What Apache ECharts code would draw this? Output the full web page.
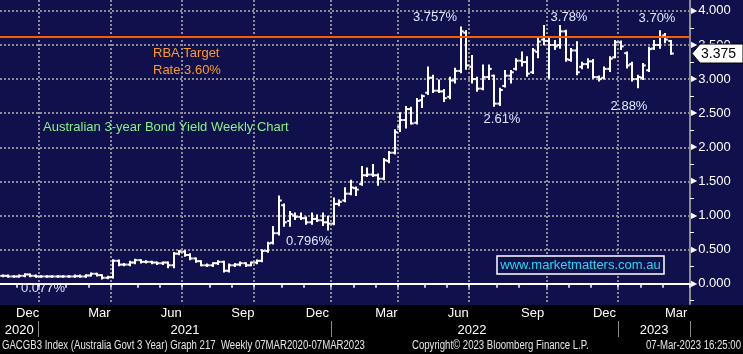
<!DOCTYPE html>
<html>
<head>
<meta charset="utf-8">
<script src="https://cdn.jsdelivr.net/npm/echarts@6/dist/echarts.min.js"></script>
<style>
html, body { margin: 0; padding: 0; background: #000; }
#chart { width: 743px; height: 354px; }
</style>
</head>
<body>
<div id="chart"></div>
<script>
// weekly bars (Friday dates), first slot shown is the week ending 13 Nov 2020
var firstWeek = Date.UTC(2020, 10, 13);
var weekCount = 125;

var open = [
    .115, .115, .106, .106, .115, .135, .115, .106, .106, .106,
    .106, .106, .106, .106, .11, .106, .12, .145, .125, .087,
    .095, .335, .28, .28, .31, .345, .32, .32, .31, .30,
    .31, .27, .44, .47, .42, .37, .33, .27, .27, .30,
    .32, .19, .27, .28, .30, .27, .31, .335, .48, .60,
    .74, 1.15, .92, 1.0, .98, .96, .90, .95, .93, .90,
    .88, 1.17, 1.22, 1.32, 1.40, 1.46, 1.59, 1.60, 1.59, 1.54,
    1.80, 1.92, 2.30, 2.40, 2.56, 2.36, 2.69, 2.80, 3.02, 2.83,
    2.82, 2.74, 2.98, 3.12, 3.68, 3.18, 3.0, 2.86, 3.03, 3.05,
    2.64, 2.90, 3.05, 3.15, 3.27, 3.25, 3.10, 3.40, 3.58, 3.56,
    3.50, 3.50, 3.70, 3.28, 3.42, 3.18, 3.22, 3.26, 3.03, 3.02,
    3.15, 3.32, 3.54, 3.38, 3.22, 3.0, 3.02, 3.13, 3.45, 3.50,
    3.64, 3.56
];
var high = [
    .12, .12, .11, .12, .14, .135, .12, .11, .11, .11,
    .11, .11, .11, .12, .12, .125, .15, .145, .125, .10,
    .345, .34, .29, .32, .35, .345, .33, .32, .31, .31,
    .31, .45, .48, .48, .43, .37, .33, .28, .30, .33,
    .32, .28, .29, .31, .30, .31, .34, .49, .60, .83,
    1.28, 1.16, 1.05, 1.03, 1.03, .97, 1.03, 1.0, 1.03, .98,
    1.25, 1.22, 1.40, 1.51, 1.41, 1.71, 1.69, 1.74, 1.60, 1.83,
    1.93, 2.25, 2.50, 2.59, 2.58, 2.71, 2.76, 3.17, 3.05, 2.98,
    2.84, 3.02, 3.15, 3.757, 3.70, 3.34, 3.02, 3.20, 3.20, 3.05,
    2.86, 3.12, 3.12, 3.29, 3.39, 3.32, 3.44, 3.59, 3.78, 3.59,
    3.56, 3.78, 3.71, 3.44, 3.54, 3.24, 3.29, 3.28, 3.04, 3.17,
    3.32, 3.56, 3.55, 3.39, 3.24, 3.05, 3.22, 3.46, 3.56, 3.70,
    3.66, 3.56
];
var low = [
    .11, .10, .10, .10, .11, .11, .10, .10, .10, .10,
    .10, .10, .10, .10, .10, .10, .12, .12, .077, .08,
    .09, .27, .27, .27, .30, .31, .31, .30, .29, .29,
    .24, .24, .43, .41, .36, .32, .27, .26, .26, .29,
    .18, .18, .26, .27, .26, .27, .30, .33, .47, .59,
    .72, .85, .85, .95, .95, .88, .88, .92, .86, .796,
    .87, 1.15, 1.21, 1.31, 1.30, 1.45, 1.58, 1.58, 1.45, 1.53,
    1.78, 1.91, 2.24, 2.29, 2.35, 2.35, 2.59, 2.78, 2.81, 2.81,
    2.68, 2.72, 2.95, 3.10, 3.15, 2.95, 2.83, 2.85, 3.0, 2.61,
    2.62, 2.89, 2.95, 3.14, 3.20, 3.05, 3.09, 3.32, 3.51, 3.02,
    3.44, 3.46, 3.27, 3.27, 3.07, 3.16, 3.17, 3.02, 2.98, 3.01,
    3.12, 3.32, 3.44, 3.17, 2.98, 2.88, 3.0, 3.12, 3.44, 3.46,
    3.54, 3.37
];
var close = [
    .115, .106, .106, .115, .135, .115, .106, .106, .106, .106,
    .106, .106, .106, .11, .106, .12, .145, .125, .087, .095,
    .335, .28, .28, .31, .345, .32, .32, .31, .30, .31,
    .27, .44, .47, .42, .37, .33, .27, .27, .30, .32,
    .19, .27, .28, .30, .27, .31, .335, .48, .59, .74,
    1.22, .90, 1.02, .98, .96, .90, .95, .93, .90, .88,
    1.17, 1.20, 1.32, 1.41, 1.38, 1.59, 1.60, 1.59, 1.54, 1.81,
    1.92, 2.22, 2.40, 2.56, 2.35, 2.68, 2.75, 3.02, 2.83, 2.82,
    2.72, 2.98, 3.12, 3.70, 3.20, 3.0, 2.86, 3.03, 3.15, 2.64,
    2.84, 3.05, 3.10, 3.27, 3.25, 3.08, 3.42, 3.55, 3.56, 3.50,
    3.48, 3.70, 3.29, 3.42, 3.10, 3.22, 3.26, 3.03, 3.00, 3.15,
    3.30, 3.54, 3.48, 3.20, 3.0, 3.03, 3.20, 3.44, 3.50, 3.62,
    3.58, 3.375
];
var rbaTarget = 3.62;
var monthNames = ['Jan', 'Feb', 'Mar', 'Apr', 'May', 'Jun', 'Jul', 'Aug', 'Sep', 'Oct', 'Nov', 'Dec'];

var navy = '#10104c';
var gridLine = { color: '#8c8c96', width: 2, type: [2, 2] };
var font = 'Liberation Sans, Arial, sans-serif';

var weeks = [];
var categories = [];
for (var i = 0; i < weekCount; i++) {
    var d = new Date(firstWeek + i * 7 * 86400000);
    weeks.push(d);
    categories.push(d.toISOString().slice(0, 10));
}

function isMonthStart(i) { return weeks[i].getUTCDate() <= 7; }
function isQuarterStart(i) { return isMonthStart(i) && weeks[i].getUTCMonth() % 3 === 0; }

// month labels sit in the middle of Dec / Mar / Jun / Sep
var monthLabel = {};
var groups = {};
weeks.forEach(function (d, i) {
    var m = d.getUTCMonth();
    if (m % 3 !== 2) return;
    var key = d.getUTCFullYear() + '-' + m;
    (groups[key] = groups[key] || []).push(i);
});
Object.keys(groups).forEach(function (k) {
    var idx = groups[k];
    var at = idx[Math.floor(idx.length / 2)];
    monthLabel[at] = { text: monthNames[weeks[at].getUTCMonth()], even: idx.length % 2 === 0 };
});

// year labels in the middle of each year span
var yearStarts = [];
weeks.forEach(function (d, i) { if (d.getUTCMonth() === 0 && isMonthStart(i)) yearStarts.push(i); });
var bounds = [0].concat(yearStarts).concat([weekCount]);
var yearLabel = {};
for (var b = 0; b < bounds.length - 1; b++) {
    var at = Math.floor((bounds[b] + bounds[b + 1]) / 2 - 0.5);
    yearLabel[at] = String(weeks[bounds[b]].getUTCFullYear());
}

var ohlc = close.map(function (c, i) { return [i, open[i], high[i], low[i], c]; });

function renderBar(params, api) {
    var i = api.value(0);
    var pO = api.coord([i, api.value(1)]);
    var pH = api.coord([i, api.value(2)]);
    var pL = api.coord([i, api.value(3)]);
    var pC = api.coord([i, api.value(4)]);
    var half = api.size([1, 0])[0] * 0.5;
    var x = Math.round(pO[0]);
    var st = { stroke: '#ffffff', lineWidth: 2 };
    return {
        type: 'group',
        children: [
            { type: 'line', shape: { x1: x, y1: pH[1] - 1, x2: x, y2: pL[1] + 1 }, style: st },
            { type: 'line', shape: { x1: x - half, y1: pO[1], x2: x, y2: pO[1] }, style: st },
            { type: 'line', shape: { x1: x, y1: pC[1], x2: x + half, y2: pC[1] }, style: st }
        ]
    };
}

var chart = echarts.init(document.getElementById('chart'));
chart.setOption({
    backgroundColor: navy,
    animation: false,
    grid: { left: 0, right: 53, top: -1, bottom: 50, show: true, backgroundColor: navy, borderWidth: 0 },
    xAxis: [{
        type: 'category',
        data: categories,
        boundaryGap: true,
        axisLine: { show: true, lineStyle: { color: '#ffffff', width: 2 } },
        axisTick: { show: true, interval: function (i) { return isMonthStart(i); }, length: 4, lineStyle: { color: '#ffffff', width: 1.5 } },
        axisLabel: {
            interval: function (i) { return !!monthLabel[i]; },
            formatter: function (v, i) {
                var l = monthLabel[i];
                return l ? (l.even ? '{e|' + l.text + '}' : '{o|' + l.text + '}') : '';
            },
            margin: 3,
            rich: {
                e: { color: '#ffffff', fontSize: 13, fontFamily: font, padding: [0, 5.5, 0, 0] },
                o: { color: '#ffffff', fontSize: 13, fontFamily: font }
            }
        },
        splitLine: { show: true, interval: function (i) { return isQuarterStart(i); }, lineStyle: gridLine }
    }, {
        type: 'category',
        data: categories,
        boundaryGap: true,
        position: 'bottom',
        offset: 17,
        axisLine: { show: false },
        axisTick: { show: true, interval: function (i) { return yearStarts.indexOf(i) >= 0; }, length: 16, lineStyle: { color: '#8a8a8a', width: 1 } },
        axisLabel: {
            interval: function (i) { return !!yearLabel[i]; },
            formatter: function (v, i) { return yearLabel[i] || ''; },
            color: '#ffffff', fontSize: 13, fontFamily: font, margin: 3
        },
        splitLine: { show: false }
    }],
    yAxis: {
        type: 'value',
        position: 'right',
        min: -0.298,
        max: 4.16,
        splitNumber: 9,
        axisLine: { show: true, lineStyle: gridLine },
        axisTick: { show: false },
        minorTick: { show: true, splitNumber: 2, length: 4, lineStyle: { color: '#ffffff', width: 1 } },
        axisLabel: {
            showMinLabel: false,
            showMaxLabel: false,
            margin: 1,
            formatter: function (v) { return '{t|\u25B6}{v|' + v.toFixed(3) + '}'; },
            rich: {
                t: { color: '#ffffff', fontSize: 8, fontFamily: 'DejaVu Sans', padding: [0, 1, 0, 0] },
                v: { color: '#ffffff', fontSize: 13, fontFamily: font }
            }
        },
        splitLine: { show: true, showMinLine: false, showMaxLine: false, lineStyle: gridLine }
    },
    series: [{
        type: 'custom',
        renderItem: renderBar,
        encode: { x: 0, y: [1, 2, 3, 4] },
        data: ohlc,
        markLine: {
            silent: true,
            symbol: 'none',
            label: { show: false },
            lineStyle: { color: '#ff5a00', width: 2, type: 'solid' },
            data: [{ yAxis: rbaTarget }]
        }
    }]
});

function txt(text, x, y, color, align, size, sx) {
    return {
        type: 'text', z: 100, x: x, y: y, scaleX: sx || 1,
        style: {
            text: text, fill: color, fontSize: size || 13, fontFamily: font,
            align: align || 'left', textAlign: align || 'left',
            verticalAlign: 'middle', textVerticalAlign: 'middle'
        }
    };
}

var lastY = chart.convertToPixel({ yAxisIndex: 0 }, close[close.length - 1]);
var note = '#dfe7ff';
chart.setOption({
    graphic: [
        { type: 'rect', z: -1, shape: { x: 0, y: 305, width: 743, height: 49 }, style: { fill: '#000000' } },
        txt('RBA Target', 153, 53, '#ff9a22'),
        txt('Rate 3.60%', 153, 70, '#ff9a22'),
        txt('Australian 3-year Bond Yield Weekly Chart', 43, 127, '#86f286'),
        txt('3.757%', 435, 17, note, 'center'),
        txt('3.78%', 569, 17, note, 'center'),
        txt('3.70%', 657, 18, note, 'center'),
        txt('2.61%', 502, 119, note, 'center'),
        txt('2.88%', 629, 106, note, 'center'),
        txt('0.796%', 308, 241, note, 'center'),
        txt('0.077%', 43, 288, note, 'center'),
        { type: 'rect', z: 99, shape: { x: 497, y: 256, width: 167, height: 18 }, style: { fill: navy, stroke: '#ffffff', lineWidth: 1.5 } },
        txt('www.marketmatters.com.au', 580.5, 265.5, '#2ad8f0', 'center'),
        {
            type: 'polygon', z: 100,
            shape: { points: [[692, lastY], [700, lastY - 9.5], [743, lastY - 9.5], [743, lastY + 9.5], [700, lastY + 9.5]] },
            style: { fill: '#ffffff', stroke: '#000000', lineWidth: 1 }
        },
        txt(close[close.length - 1].toFixed(3), 701, lastY + 0.5, '#000000', 'left', 14),
        txt('GACGB3 Index (Australia Govt 3 Year) Graph 217  Weekly 07MAR2020-07MAR2023', 2, 346, '#e6e6e6', 'left', 12, 0.8),
        txt('Copyright\u00A9 2023 Bloomberg Finance L.P.', 412, 346, '#e6e6e6', 'left', 12, 0.8),
        txt('07-Mar-2023 16:25:00', 741, 346, '#e6e6e6', 'right', 12, 0.8)
    ]
});
</script>
</body>
</html>
